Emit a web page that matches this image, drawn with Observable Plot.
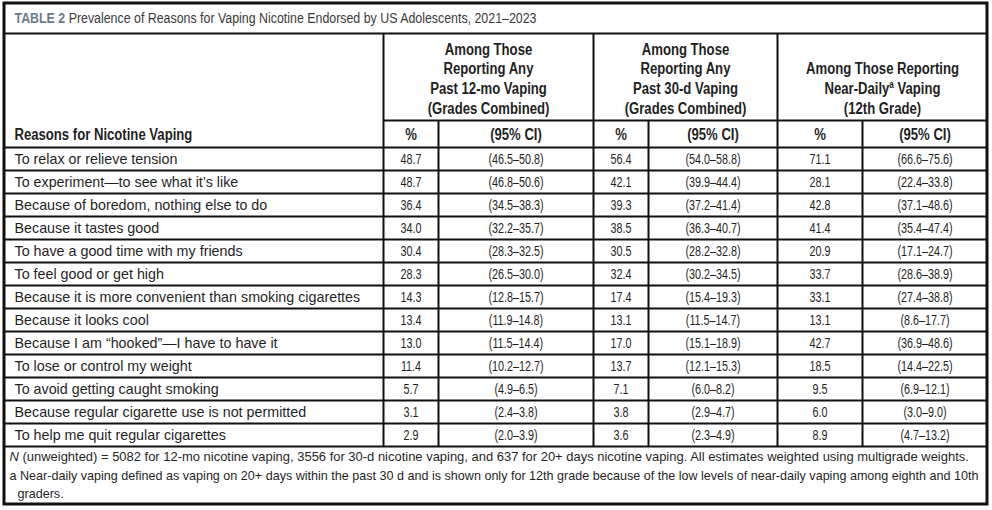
<!DOCTYPE html>
<html><head><meta charset="utf-8">
<script src="https://cdn.jsdelivr.net/npm/d3@7"></script>
<script src="https://cdn.jsdelivr.net/npm/@observablehq/plot@0.6"></script>
<style>body{margin:0;background:#fff}</style>
</head><body><div id="chart"></div>
<script>
// ---------- data ----------
const tableLabel = "TABLE 2";
const title = "Prevalence of Reasons for Vaping Nicotine Endorsed by US Adolescents, 2021–2023";
const stubHeader = "Reasons for Nicotine Vaping";
const groupHeaders = [
  ["Among Those", "Reporting Any", "Past 12-mo Vaping", "(Grades Combined)"],
  ["Among Those", "Reporting Any", "Past 30-d Vaping", "(Grades Combined)"],
  ["Among Those Reporting", "Near-Dailyᵃ Vaping", "(12th Grade)"]
];
const subHeaders = ["%", "(95% CI)"];
const reasons = [
  "To relax or relieve tension",
  "To experiment—to see what it’s like",
  "Because of boredom, nothing else to do",
  "Because it tastes good",
  "To have a good time with my friends",
  "To feel good or get high",
  "Because it is more convenient than smoking cigarettes",
  "Because it looks cool",
  "Because I am “hooked”—I have to have it",
  "To lose or control my weight",
  "To avoid getting caught smoking",
  "Because regular cigarette use is not permitted",
  "To help me quit regular cigarettes"
];
const pct12mo = [48.7, 48.7, 36.4, 34.0, 30.4, 28.3, 14.3, 13.4, 13.0, 11.4, 5.7, 3.1, 2.9];
const ci12mo = [[46.5,50.8],[46.8,50.6],[34.5,38.3],[32.2,35.7],[28.3,32.5],[26.5,30.0],[12.8,15.7],[11.9,14.8],[11.5,14.4],[10.2,12.7],[4.9,6.5],[2.4,3.8],[2.0,3.9]];
const pct30d = [56.4, 42.1, 39.3, 38.5, 30.5, 32.4, 17.4, 13.1, 17.0, 13.7, 7.1, 3.8, 3.6];
const ci30d = [[54.0,58.8],[39.9,44.4],[37.2,41.4],[36.3,40.7],[28.2,32.8],[30.2,34.5],[15.4,19.3],[11.5,14.7],[15.1,18.9],[12.1,15.3],[6.0,8.2],[2.9,4.7],[2.3,4.9]];
const pctDaily = [71.1, 28.1, 42.8, 41.4, 20.9, 33.7, 33.1, 13.1, 42.7, 18.5, 9.5, 6.0, 8.9];
const ciDaily = [[66.6,75.6],[22.4,33.8],[37.1,48.6],[35.4,47.4],[17.1,24.7],[28.6,38.9],[27.4,38.8],[8.6,17.7],[36.9,48.6],[14.4,22.5],[6.9,12.1],[3.0,9.0],[4.7,13.2]];
const footnotes = [
  "N (unweighted) = 5082 for 12-mo nicotine vaping, 3556 for 30-d nicotine vaping, and 637 for 20+ days nicotine vaping. All estimates weighted using multigrade weights.",
  "a Near-daily vaping defined as vaping on 20+ days within the past 30 d and is shown only for 12th grade because of the low levels of near-daily vaping among eighth and 10th",
  "graders."
];

// ---------- layout ----------
const W = 992, H = 510;
const box = {x1: 4, x2: 987, y1: 3, y2: 504};
const colEdges = [4, 383, 438, 593, 648, 777, 862, 987];
const titleY = 18, titleLineY = 33;
const headLine0 = 49, headStep = 19.7;
const subLineY = 120, subTextY = 134, headBottomY = 147;
const rowH = 23;
const tableBottom = headBottomY + reasons.length * rowH;
const footY = [456, 475, 493];
const footX = [9, 9, 17];
const stubX = 14;

const FONT = "'Liberation Sans', Arial, sans-serif";
const INK = "#1f1f1f";
// horizontal glyph compression per text mark (emulates a condensed face)
const condense = {title: 0.8, head: 0.82, stub: 0.82, sub: 0.82, label: 1, cell: 0.72, foot: [0.998, 0.968, 0.968]};

// ---------- build ----------
const fmt = v => v.toFixed(1);
const fmtCI = ([a, b]) => `(${fmt(a)}–${fmt(b)})`;
const series = [[pct12mo, ci12mo], [pct30d, ci30d], [pctDaily, ciDaily]];
const rowY = i => headBottomY + (i + 0.5) * rowH;
const mid = (a, b) => (a + b) / 2;

const cells = [];
series.forEach(([p, c], g) => {
  reasons.forEach((r, i) => {
    cells.push({x: mid(colEdges[1 + 2*g], colEdges[2 + 2*g]), y: rowY(i), text: fmt(p[i])});
    cells.push({x: mid(colEdges[2 + 2*g], colEdges[3 + 2*g]), y: rowY(i), text: fmtCI(c[i])});
  });
});
const labels = reasons.map((r, i) => ({x: stubX, y: rowY(i), text: r}));

const headerLines = [];
groupHeaders.forEach((lines, g) => {
  const offset = 4 - lines.length;
  lines.forEach((t, k) => headerLines.push({x: mid(colEdges[1 + 2*g], colEdges[3 + 2*g]), y: headLine0 + (k + offset) * headStep, text: t}));
});
const subHeads = [];
for (let g = 0; g < 3; g++) {
  subHeads.push({x: mid(colEdges[1 + 2*g], colEdges[2 + 2*g]), y: subTextY, text: subHeaders[0]});
  subHeads.push({x: mid(colEdges[2 + 2*g], colEdges[3 + 2*g]), y: subTextY, text: subHeaders[1]});
}

const hLines = [
  {y: titleLineY, x1: box.x1, x2: box.x2, w: 2},
  {y: subLineY, x1: colEdges[1], x2: box.x2, w: 2},
  {y: headBottomY, x1: box.x1, x2: box.x2, w: 2},
  ...reasons.slice(1).map((r, i) => ({y: headBottomY + (i + 1) * rowH, x1: box.x1, x2: box.x2, w: 1.8})),
  {y: tableBottom, x1: box.x1, x2: box.x2, w: 2}
];
const vLines = [
  {x: colEdges[1], y1: titleLineY, y2: tableBottom},
  {x: colEdges[3], y1: titleLineY, y2: tableBottom},
  {x: colEdges[5], y1: titleLineY, y2: tableBottom},
  {x: colEdges[2], y1: subLineY, y2: tableBottom},
  {x: colEdges[4], y1: subLineY, y2: tableBottom},
  {x: colEdges[6], y1: subLineY, y2: tableBottom}
];

const txt = (extra) => Object.assign({x: "x", y: "y", text: "text", lineAnchor: "middle", fontFamily: FONT, fill: INK}, extra);

const chart = Plot.plot({
  width: W, height: H,
  marginTop: 0, marginRight: 0, marginBottom: 0, marginLeft: 0,
  x: {type: "identity", axis: null},
  y: {type: "identity", axis: null},
  style: {background: "#fff", overflow: "visible"},
  marks: [
    Plot.ruleY(hLines, {y: "y", x1: "x1", x2: "x2", stroke: "#111", strokeWidth: d => d.w}),
    Plot.ruleX(vLines, {x: "x", y1: "y1", y2: "y2", stroke: "#111", strokeWidth: 2}),
    Plot.rect([box], {x1: "x1", x2: "x2", y1: "y1", y2: "y2", fill: "none", stroke: "#111", strokeWidth: 3}),
    Plot.text([{x: stubX, y: titleY, text: `${tableLabel} ${title}`}], txt({textAnchor: "start", fontSize: 15.5, fill: "#3a3a3a"})),
    Plot.text(headerLines, txt({textAnchor: "middle", fontSize: 16, fontWeight: "bold"})),
    Plot.text([{x: stubX, y: subTextY, text: stubHeader}], txt({textAnchor: "start", fontSize: 16, fontWeight: "bold"})),
    Plot.text(subHeads, txt({textAnchor: "middle", fontSize: 16, fontWeight: "bold"})),
    Plot.text(labels, txt({textAnchor: "start", fontSize: 14.3})),
    Plot.text(cells, txt({textAnchor: "middle", fontSize: 15})),
    Plot.text(footnotes.map((t, i) => ({x: footX[i], y: footY[i], text: t})), txt({textAnchor: "start", fontSize: 13}))
  ]
});

// rich-text touches on Plot's own text elements
d3.select(chart).selectAll("text").each(function () {
  const el = d3.select(this);
  const t = this.textContent;
  if (t === `${tableLabel} ${title}`) {
    el.text("");
    el.append("tspan").attr("font-weight", "bold").attr("fill", "#6e7a86").text(tableLabel);
    el.append("tspan").text(" " + title);
  } else if (t.includes("ᵃ")) {
    const [a, b] = t.split("ᵃ");
    el.text("");
    el.append("tspan").text(a);
    el.append("tspan").attr("font-size", "10").attr("dy", "-6").text("a");
    el.append("tspan").attr("dy", "6").text(b);
  } else if (t.startsWith("N (unweighted)")) {
    el.text("");
    el.append("tspan").attr("font-style", "italic").text("N");
    el.append("tspan").text(t.slice(1));
  }
});

// condense glyphs horizontally around each text's anchor point
const scales = [condense.title, condense.head, condense.stub, condense.sub, condense.label, condense.cell, condense.foot];
d3.select(chart).selectAll('g[aria-label="text"]').each(function (_, gi) {
  const sc = scales[gi];
  d3.select(this).selectAll("text").each(function (_, ti) {
    const s = Array.isArray(sc) ? sc[ti] : sc;
    if (s === 1 || s == null) return;
    const tr = this.getAttribute("transform");
    if (tr) this.setAttribute("transform", `${tr} scale(${s},1)`);
    else {
      const x = +(this.getAttribute("x") || 0);
      this.setAttribute("transform", `translate(${x},0) scale(${s},1) translate(${-x},0)`);
    }
  });
});

document.getElementById("chart").appendChild(chart);
</script>
</body></html>
